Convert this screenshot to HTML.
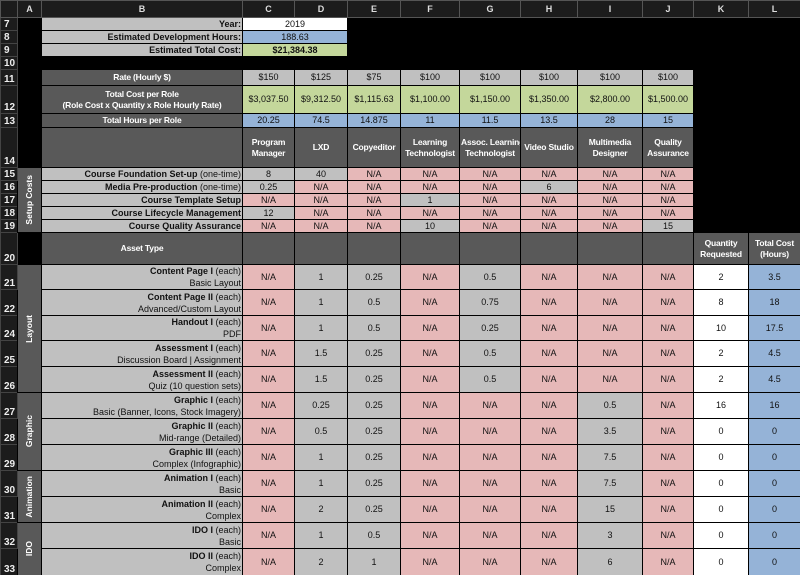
<!DOCTYPE html>
<html><head><meta charset="utf-8"><style>
html,body{margin:0;padding:0;background:#000;width:800px;height:575px;overflow:hidden}
table{border-collapse:collapse;table-layout:fixed;width:800px;font-family:"Liberation Sans",sans-serif;font-size:9px;color:#111}
td{border:1px solid #000;padding:0 1px;text-align:center;vertical-align:middle;overflow:hidden;white-space:nowrap;line-height:11px}
.h{background:#1c1c1c;color:#ddd;font-weight:bold;font-size:9px;border-color:#555}
.r{background:#1c1c1c;color:#eee;font-weight:bold;font-size:10px;text-align:left;padding-left:3px;vertical-align:bottom;border-color:#444}
.k{background:#000}
.g{background:#c0c0c0}
.p{background:#e6b8b8}
.gr{background:#c4d79b}
.b{background:#95b3d7}
.w{background:#fff}
.d{background:#595959;color:#fff;font-weight:bold;font-size:8.5px;letter-spacing:-0.2px}
.lb{background:#c0c0c0;text-align:right;font-weight:bold}
.lb2{background:#c0c0c0;text-align:right;line-height:12px}
.lb2 b{font-weight:bold}
.v{background:#595959;color:#fff;font-weight:bold;padding:0;overflow:visible;font-size:8.5px}
.v div{writing-mode:vertical-rl;transform:rotate(180deg);white-space:nowrap;margin:0 auto}
</style></head><body>
<table>
<colgroup><col style="width:17px"><col style="width:24px"><col style="width:201px"><col style="width:52px"><col style="width:53px"><col style="width:53px"><col style="width:59px"><col style="width:61px"><col style="width:57px"><col style="width:65px"><col style="width:51px"><col style="width:55px"><col style="width:52px"></colgroup>
<tr style="height:17px"><td class="h"></td><td class="h">A</td><td class="h">B</td><td class="h">C</td><td class="h">D</td><td class="h">E</td><td class="h">F</td><td class="h">G</td><td class="h">H</td><td class="h">I</td><td class="h">J</td><td class="h">K</td><td class="h">L</td></tr>
<tr style="height:13px"><td class="r">7</td><td class="k"></td><td class="lb">Year:</td><td class="w" colspan="2">2019</td><td class="k" colspan="8"></td></tr>
<tr style="height:13px"><td class="r">8</td><td class="k"></td><td class="lb">Estimated Development Hours:</td><td class="b" colspan="2">188.63</td><td class="k" colspan="8"></td></tr>
<tr style="height:13px"><td class="r">9</td><td class="k"></td><td class="lb">Estimated Total Cost:</td><td class="gr" colspan="2"><b>$21,384.38</b></td><td class="k" colspan="8"></td></tr>
<tr style="height:13px"><td class="r">10</td><td class="k" colspan="12"></td></tr>
<tr style="height:16px"><td class="r">11</td><td class="k"></td><td class="d">Rate (Hourly $)</td><td class="g">$150</td><td class="g">$125</td><td class="g">$75</td><td class="g">$100</td><td class="g">$100</td><td class="g">$100</td><td class="g">$100</td><td class="g">$100</td><td class="k" colspan="2"></td></tr>
<tr style="height:28px"><td class="r">12</td><td class="k"></td><td class="d">Total Cost per Role<br>(Role Cost x Quantity x Role Hourly Rate)</td><td class="gr">$3,037.50</td><td class="gr">$9,312.50</td><td class="gr">$1,115.63</td><td class="gr">$1,100.00</td><td class="gr">$1,150.00</td><td class="gr">$1,350.00</td><td class="gr">$2,800.00</td><td class="gr">$1,500.00</td><td class="k" colspan="2"></td></tr>
<tr style="height:14px"><td class="r">13</td><td class="k"></td><td class="d">Total Hours per Role</td><td class="b">20.25</td><td class="b">74.5</td><td class="b">14.875</td><td class="b">11</td><td class="b">11.5</td><td class="b">13.5</td><td class="b">28</td><td class="b">15</td><td class="k" colspan="2"></td></tr>
<tr style="height:40px"><td class="r">14</td><td class="k"></td><td class="d"></td><td class="d">Program<br>Manager</td><td class="d">LXD</td><td class="d">Copyeditor</td><td class="d">Learning<br>Technologist</td><td class="d">Assoc. Learning<br>Technologist</td><td class="d">Video Studio</td><td class="d">Multimedia<br>Designer</td><td class="d">Quality<br>Assurance</td><td class="k" colspan="2"></td></tr>
<tr style="height:13px"><td class="r">15</td><td class="v" rowspan="5"><div>Setup Costs</div></td><td class="lb">Course Foundation Set-up <span style="font-weight:normal">(one-time)</span></td><td class="g">8</td><td class="g">40</td><td class="p">N/A</td><td class="p">N/A</td><td class="p">N/A</td><td class="p">N/A</td><td class="p">N/A</td><td class="p">N/A</td><td class="k" colspan="2"></td></tr>
<tr style="height:13px"><td class="r">16</td><td class="lb">Media Pre-production <span style="font-weight:normal">(one-time)</span></td><td class="g">0.25</td><td class="p">N/A</td><td class="p">N/A</td><td class="p">N/A</td><td class="p">N/A</td><td class="g">6</td><td class="p">N/A</td><td class="p">N/A</td><td class="k" colspan="2"></td></tr>
<tr style="height:13px"><td class="r">17</td><td class="lb">Course Template Setup</td><td class="p">N/A</td><td class="p">N/A</td><td class="p">N/A</td><td class="g">1</td><td class="p">N/A</td><td class="p">N/A</td><td class="p">N/A</td><td class="p">N/A</td><td class="k" colspan="2"></td></tr>
<tr style="height:13px"><td class="r">18</td><td class="lb">Course Lifecycle Management</td><td class="g">12</td><td class="p">N/A</td><td class="p">N/A</td><td class="p">N/A</td><td class="p">N/A</td><td class="p">N/A</td><td class="p">N/A</td><td class="p">N/A</td><td class="k" colspan="2"></td></tr>
<tr style="height:13px"><td class="r">19</td><td class="lb">Course Quality Assurance</td><td class="p">N/A</td><td class="p">N/A</td><td class="p">N/A</td><td class="g">10</td><td class="p">N/A</td><td class="p">N/A</td><td class="p">N/A</td><td class="g">15</td><td class="k" colspan="2"></td></tr>
<tr style="height:32px"><td class="r">20</td><td class="k"></td><td class="d">Asset Type</td><td class="d"></td><td class="d"></td><td class="d"></td><td class="d"></td><td class="d"></td><td class="d"></td><td class="d"></td><td class="d"></td><td class="d">Quantity<br>Requested</td><td class="d">Total Cost<br>(Hours)</td></tr>
<tr style="height:25px"><td class="r">21</td><td class="v" rowspan="5"><div>Layout</div></td><td class="lb2"><b>Content Page I</b> (each)<br>Basic Layout</td><td class="p">N/A</td><td class="g">1</td><td class="g">0.25</td><td class="p">N/A</td><td class="g">0.5</td><td class="p">N/A</td><td class="p">N/A</td><td class="p">N/A</td><td class="w">2</td><td class="b">3.5</td></tr>
<tr style="height:26px"><td class="r">22</td><td class="lb2"><b>Content Page II</b> (each)<br>Advanced/Custom Layout</td><td class="p">N/A</td><td class="g">1</td><td class="g">0.5</td><td class="p">N/A</td><td class="g">0.75</td><td class="p">N/A</td><td class="p">N/A</td><td class="p">N/A</td><td class="w">8</td><td class="b">18</td></tr>
<tr style="height:25px"><td class="r">24</td><td class="lb2"><b>Handout I</b> (each)<br>PDF</td><td class="p">N/A</td><td class="g">1</td><td class="g">0.5</td><td class="p">N/A</td><td class="g">0.25</td><td class="p">N/A</td><td class="p">N/A</td><td class="p">N/A</td><td class="w">10</td><td class="b">17.5</td></tr>
<tr style="height:26px"><td class="r">25</td><td class="lb2"><b>Assessment I</b> (each)<br>Discussion Board | Assignment</td><td class="p">N/A</td><td class="g">1.5</td><td class="g">0.25</td><td class="p">N/A</td><td class="g">0.5</td><td class="p">N/A</td><td class="p">N/A</td><td class="p">N/A</td><td class="w">2</td><td class="b">4.5</td></tr>
<tr style="height:26px"><td class="r">26</td><td class="lb2"><b>Assessment II</b> (each)<br>Quiz (10 question sets)</td><td class="p">N/A</td><td class="g">1.5</td><td class="g">0.25</td><td class="p">N/A</td><td class="g">0.5</td><td class="p">N/A</td><td class="p">N/A</td><td class="p">N/A</td><td class="w">2</td><td class="b">4.5</td></tr>
<tr style="height:26px"><td class="r">27</td><td class="v" rowspan="3"><div>Graphic</div></td><td class="lb2"><b>Graphic I</b> (each)<br>Basic (Banner, Icons, Stock Imagery)</td><td class="p">N/A</td><td class="g">0.25</td><td class="g">0.25</td><td class="p">N/A</td><td class="p">N/A</td><td class="p">N/A</td><td class="g">0.5</td><td class="p">N/A</td><td class="w">16</td><td class="b">16</td></tr>
<tr style="height:26px"><td class="r">28</td><td class="lb2"><b>Graphic II</b> (each)<br>Mid-range (Detailed)</td><td class="p">N/A</td><td class="g">0.5</td><td class="g">0.25</td><td class="p">N/A</td><td class="p">N/A</td><td class="p">N/A</td><td class="g">3.5</td><td class="p">N/A</td><td class="w">0</td><td class="b">0</td></tr>
<tr style="height:26px"><td class="r">29</td><td class="lb2"><b>Graphic III</b> (each)<br>Complex (Infographic)</td><td class="p">N/A</td><td class="g">1</td><td class="g">0.25</td><td class="p">N/A</td><td class="p">N/A</td><td class="p">N/A</td><td class="g">7.5</td><td class="p">N/A</td><td class="w">0</td><td class="b">0</td></tr>
<tr style="height:26px"><td class="r">30</td><td class="v" rowspan="2"><div>Animation</div></td><td class="lb2"><b>Animation I</b> (each)<br>Basic</td><td class="p">N/A</td><td class="g">1</td><td class="g">0.25</td><td class="p">N/A</td><td class="p">N/A</td><td class="p">N/A</td><td class="g">7.5</td><td class="p">N/A</td><td class="w">0</td><td class="b">0</td></tr>
<tr style="height:26px"><td class="r">31</td><td class="lb2"><b>Animation II</b> (each)<br>Complex</td><td class="p">N/A</td><td class="g">2</td><td class="g">0.25</td><td class="p">N/A</td><td class="p">N/A</td><td class="p">N/A</td><td class="g">15</td><td class="p">N/A</td><td class="w">0</td><td class="b">0</td></tr>
<tr style="height:26px"><td class="r">32</td><td class="v" rowspan="2"><div>IDO</div></td><td class="lb2"><b>IDO I</b> (each)<br>Basic</td><td class="p">N/A</td><td class="g">1</td><td class="g">0.5</td><td class="p">N/A</td><td class="p">N/A</td><td class="p">N/A</td><td class="g">3</td><td class="p">N/A</td><td class="w">0</td><td class="b">0</td></tr>
<tr style="height:27px"><td class="r">33</td><td class="lb2"><b>IDO II</b> (each)<br>Complex</td><td class="p">N/A</td><td class="g">2</td><td class="g">1</td><td class="p">N/A</td><td class="p">N/A</td><td class="p">N/A</td><td class="g">6</td><td class="p">N/A</td><td class="w">0</td><td class="b">0</td></tr>
</table>
</body></html>
